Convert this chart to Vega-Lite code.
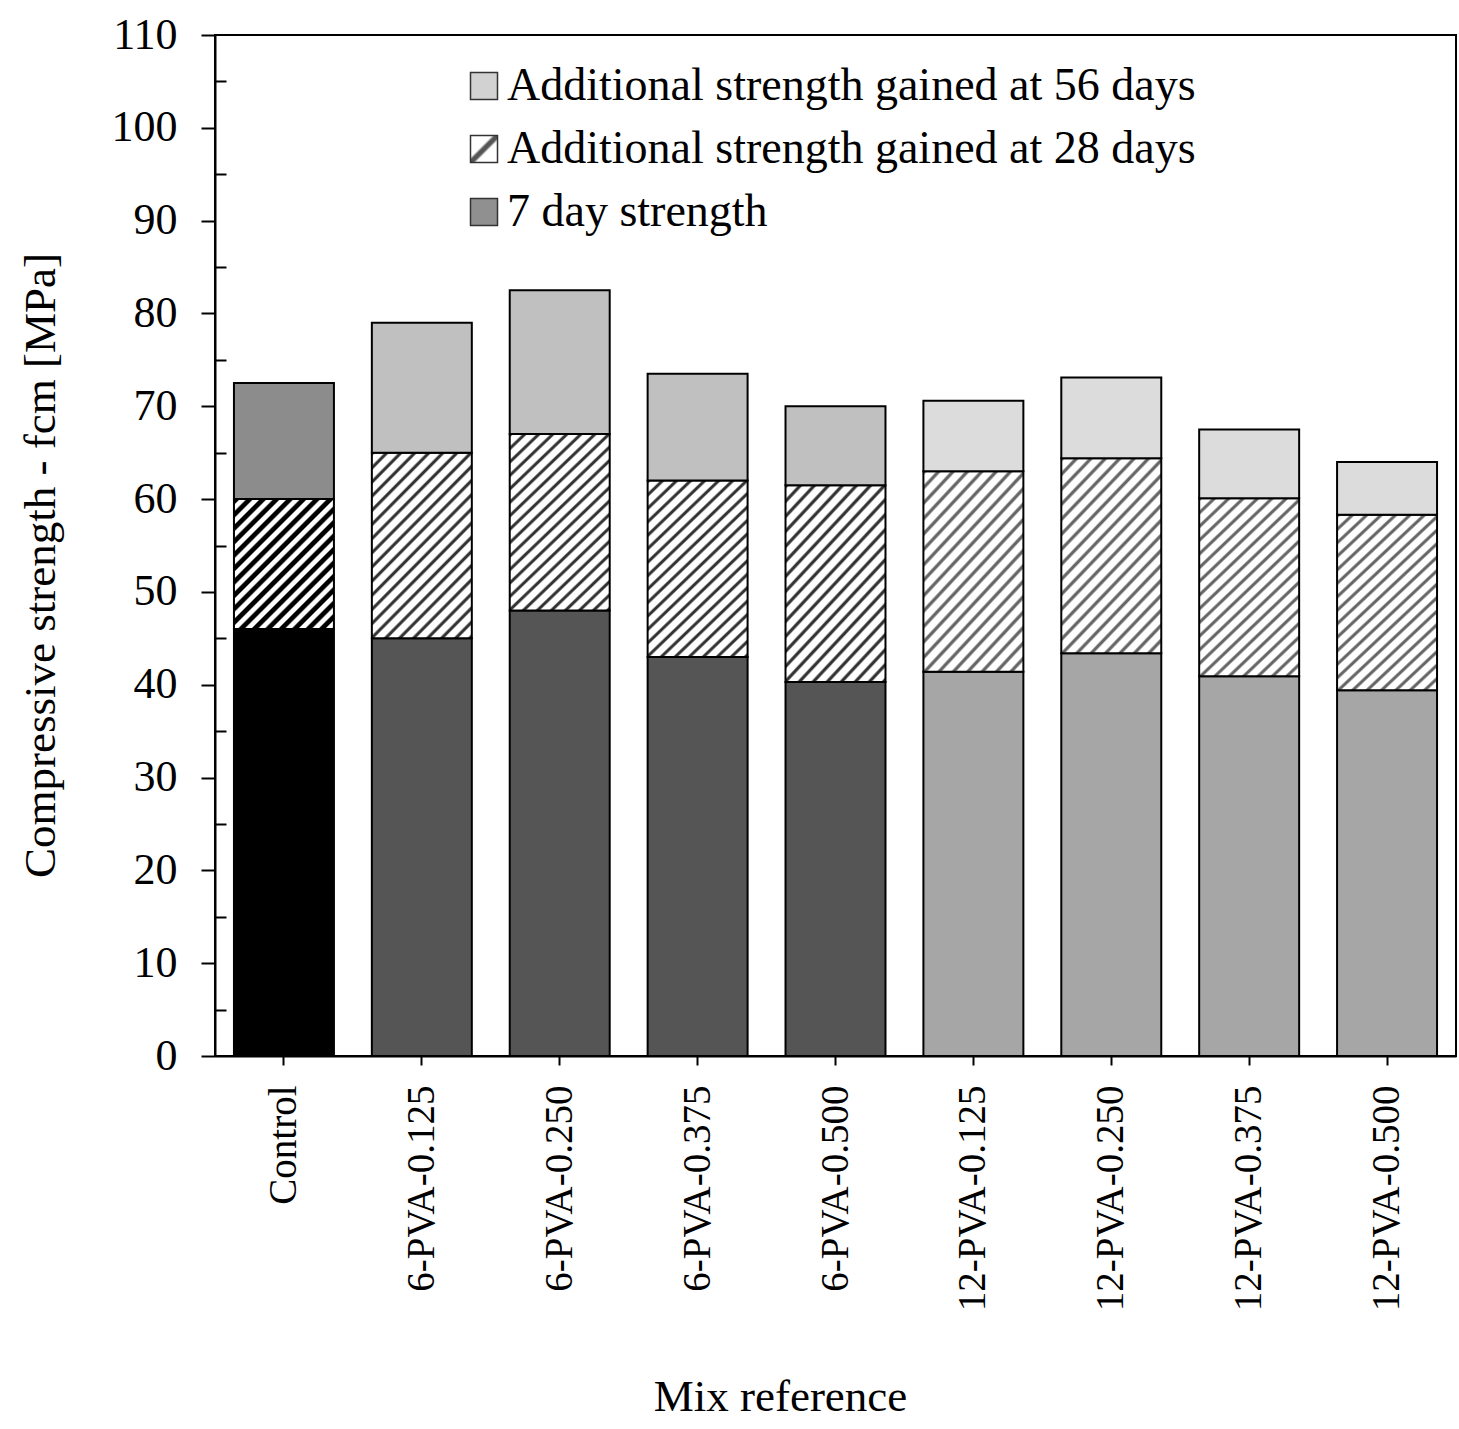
{
  "$schema": "https://vega.github.io/schema/vega-lite/v6.json",
  "autosize": {"type": "none"},
  "padding": {"left": 215, "top": 35, "right": 2, "bottom": 373},
  "width": 1241,
  "height": 1021,
  "background": "white",
  "config": {"view": {"stroke": "#000", "strokeWidth": 2}, "font": "Liberation Serif"},
  "data": {"values": [
    {"mix": "Control", "fiber": "Control", "age": 7, "value": 46},
    {"mix": "Control", "fiber": "Control", "age": 28, "value": 14},
    {"mix": "Control", "fiber": "Control", "age": 56, "value": 12.5},
    {"mix": "6-PVA-0.125", "fiber": "6", "age": 7, "value": 45},
    {"mix": "6-PVA-0.125", "fiber": "6", "age": 28, "value": 20},
    {"mix": "6-PVA-0.125", "fiber": "6", "age": 56, "value": 14},
    {"mix": "6-PVA-0.250", "fiber": "6", "age": 7, "value": 48},
    {"mix": "6-PVA-0.250", "fiber": "6", "age": 28, "value": 19},
    {"mix": "6-PVA-0.250", "fiber": "6", "age": 56, "value": 15.5},
    {"mix": "6-PVA-0.375", "fiber": "6", "age": 7, "value": 43},
    {"mix": "6-PVA-0.375", "fiber": "6", "age": 28, "value": 19},
    {"mix": "6-PVA-0.375", "fiber": "6", "age": 56, "value": 11.5},
    {"mix": "6-PVA-0.500", "fiber": "6", "age": 7, "value": 40.3},
    {"mix": "6-PVA-0.500", "fiber": "6", "age": 28, "value": 21.2},
    {"mix": "6-PVA-0.500", "fiber": "6", "age": 56, "value": 8.5},
    {"mix": "12-PVA-0.125", "fiber": "12", "age": 7, "value": 41.4},
    {"mix": "12-PVA-0.125", "fiber": "12", "age": 28, "value": 21.6},
    {"mix": "12-PVA-0.125", "fiber": "12", "age": 56, "value": 7.6},
    {"mix": "12-PVA-0.250", "fiber": "12", "age": 7, "value": 43.4},
    {"mix": "12-PVA-0.250", "fiber": "12", "age": 28, "value": 21.0},
    {"mix": "12-PVA-0.250", "fiber": "12", "age": 56, "value": 8.7},
    {"mix": "12-PVA-0.375", "fiber": "12", "age": 7, "value": 40.9},
    {"mix": "12-PVA-0.375", "fiber": "12", "age": 28, "value": 19.2},
    {"mix": "12-PVA-0.375", "fiber": "12", "age": 56, "value": 7.4},
    {"mix": "12-PVA-0.500", "fiber": "12", "age": 7, "value": 39.4},
    {"mix": "12-PVA-0.500", "fiber": "12", "age": 28, "value": 18.9},
    {"mix": "12-PVA-0.500", "fiber": "12", "age": 56, "value": 5.7}
  ]},
  "transform": [{"calculate": "datum.fiber + '_' + datum.age", "as": "key"}],
  "mark": {"type": "bar", "stroke": "#000", "strokeWidth": 2},
  "encoding": {
    "x": {
      "field": "mix", "type": "nominal",
      "sort": ["Control", "6-PVA-0.125", "6-PVA-0.250", "6-PVA-0.375", "6-PVA-0.500", "12-PVA-0.125", "12-PVA-0.250", "12-PVA-0.375", "12-PVA-0.500"],
      "scale": {"paddingInner": 0.275, "paddingOuter": 0.1375},
      "axis": {
        "title": "Mix reference", "labelAngle": -90, "labelFontSize": 39, "labelPadding": 20, "labelLimit": 500,
        "tickSize": 9, "tickColor": "#000", "tickWidth": 2, "domainColor": "#000", "domainWidth": 2,
        "titleFontSize": 45, "titleFontWeight": "normal", "titleY": 354, "titleX": 565, "titleAlign": "center", "titleBaseline": "alphabetic",
        "labelColor": "#000", "titleColor": "#000"
      }
    },
    "y": {
      "field": "value", "type": "quantitative", "stack": "zero",
      "scale": {"domain": [0, 110], "nice": false},
      "axis": {
        "title": "Compressive strength - fcm [MPa]",
        "values": [0, 5, 10, 15, 20, 25, 30, 35, 40, 45, 50, 55, 60, 65, 70, 75, 80, 85, 90, 95, 100, 105, 110],
        "labelExpr": "datum.value % 10 === 0 ? datum.label : ''",
        "tickSize": {"condition": {"test": "datum.value % 10 === 0", "value": 14}, "value": -11},
        "grid": false, "domainColor": "#000", "domainWidth": 2, "tickColor": "#000", "tickWidth": 2,
        "labelFontSize": 44, "labelColor": "#000", "labelPadding": 24,
        "titleFontSize": 45, "titleFontWeight": "normal", "titleColor": "#000", "titlePadding": 48, "titleY": 530
      }
    },
    "fill": {
      "field": "key", "type": "nominal",
      "scale": {
        "domain": ["Control_7", "Control_28", "Control_56", "6_7", "6_28", "6_56", "12_7", "12_28", "12_56", "L56", "L28", "L7"],
        "range": [
          "#000000",
          {"expr": "{gradient:'linear',x1:0,y1:0,x2:1,y2:1.3,stops:[{offset:0,color:'#000'},{offset:0.018,color:'#000'},{offset:0.025,color:'#fff'},{offset:0.043,color:'#fff'},{offset:0.05,color:'#000'},{offset:0.068,color:'#000'},{offset:0.075,color:'#fff'},{offset:0.093,color:'#fff'},{offset:0.1,color:'#000'},{offset:0.118,color:'#000'},{offset:0.125,color:'#fff'},{offset:0.143,color:'#fff'},{offset:0.15,color:'#000'},{offset:0.168,color:'#000'},{offset:0.175,color:'#fff'},{offset:0.193,color:'#fff'},{offset:0.2,color:'#000'},{offset:0.218,color:'#000'},{offset:0.225,color:'#fff'},{offset:0.243,color:'#fff'},{offset:0.25,color:'#000'},{offset:0.268,color:'#000'},{offset:0.275,color:'#fff'},{offset:0.293,color:'#fff'},{offset:0.3,color:'#000'},{offset:0.318,color:'#000'},{offset:0.325,color:'#fff'},{offset:0.343,color:'#fff'},{offset:0.35,color:'#000'},{offset:0.368,color:'#000'},{offset:0.375,color:'#fff'},{offset:0.393,color:'#fff'},{offset:0.4,color:'#000'},{offset:0.418,color:'#000'},{offset:0.425,color:'#fff'},{offset:0.443,color:'#fff'},{offset:0.45,color:'#000'},{offset:0.468,color:'#000'},{offset:0.475,color:'#fff'},{offset:0.493,color:'#fff'},{offset:0.5,color:'#000'},{offset:0.518,color:'#000'},{offset:0.525,color:'#fff'},{offset:0.543,color:'#fff'},{offset:0.55,color:'#000'},{offset:0.568,color:'#000'},{offset:0.575,color:'#fff'},{offset:0.593,color:'#fff'},{offset:0.6,color:'#000'},{offset:0.618,color:'#000'},{offset:0.625,color:'#fff'},{offset:0.643,color:'#fff'},{offset:0.65,color:'#000'},{offset:0.668,color:'#000'},{offset:0.675,color:'#fff'},{offset:0.693,color:'#fff'},{offset:0.7,color:'#000'},{offset:0.718,color:'#000'},{offset:0.725,color:'#fff'},{offset:0.743,color:'#fff'},{offset:0.75,color:'#000'},{offset:0.768,color:'#000'},{offset:0.775,color:'#fff'},{offset:0.793,color:'#fff'},{offset:0.8,color:'#000'},{offset:0.818,color:'#000'},{offset:0.825,color:'#fff'},{offset:0.843,color:'#fff'},{offset:0.85,color:'#000'},{offset:0.868,color:'#000'},{offset:0.875,color:'#fff'},{offset:0.893,color:'#fff'},{offset:0.9,color:'#000'},{offset:0.918,color:'#000'},{offset:0.925,color:'#fff'},{offset:1,color:'#fff'}]}"},
          "#8c8c8c",
          "#555555",
          {"expr": "{gradient:'linear',x1:0,y1:0,x2:1,y2:1.84,stops:[{offset:0,color:'#333'},{offset:0.005,color:'#333'},{offset:0.01,color:'#fff'},{offset:0.027,color:'#fff'},{offset:0.032,color:'#333'},{offset:0.037,color:'#333'},{offset:0.042,color:'#fff'},{offset:0.059,color:'#fff'},{offset:0.064,color:'#333'},{offset:0.069,color:'#333'},{offset:0.074,color:'#fff'},{offset:0.091,color:'#fff'},{offset:0.096,color:'#333'},{offset:0.101,color:'#333'},{offset:0.106,color:'#fff'},{offset:0.123,color:'#fff'},{offset:0.128,color:'#333'},{offset:0.133,color:'#333'},{offset:0.138,color:'#fff'},{offset:0.155,color:'#fff'},{offset:0.16,color:'#333'},{offset:0.165,color:'#333'},{offset:0.17,color:'#fff'},{offset:0.187,color:'#fff'},{offset:0.192,color:'#333'},{offset:0.197,color:'#333'},{offset:0.202,color:'#fff'},{offset:0.219,color:'#fff'},{offset:0.224,color:'#333'},{offset:0.229,color:'#333'},{offset:0.234,color:'#fff'},{offset:0.251,color:'#fff'},{offset:0.256,color:'#333'},{offset:0.261,color:'#333'},{offset:0.266,color:'#fff'},{offset:0.283,color:'#fff'},{offset:0.288,color:'#333'},{offset:0.293,color:'#333'},{offset:0.298,color:'#fff'},{offset:0.315,color:'#fff'},{offset:0.32,color:'#333'},{offset:0.325,color:'#333'},{offset:0.33,color:'#fff'},{offset:0.347,color:'#fff'},{offset:0.352,color:'#333'},{offset:0.357,color:'#333'},{offset:0.362,color:'#fff'},{offset:0.379,color:'#fff'},{offset:0.384,color:'#333'},{offset:0.389,color:'#333'},{offset:0.394,color:'#fff'},{offset:0.411,color:'#fff'},{offset:0.416,color:'#333'},{offset:0.421,color:'#333'},{offset:0.426,color:'#fff'},{offset:0.443,color:'#fff'},{offset:0.448,color:'#333'},{offset:0.453,color:'#333'},{offset:0.458,color:'#fff'},{offset:0.475,color:'#fff'},{offset:0.48,color:'#333'},{offset:0.485,color:'#333'},{offset:0.49,color:'#fff'},{offset:0.507,color:'#fff'},{offset:0.512,color:'#333'},{offset:0.517,color:'#333'},{offset:0.522,color:'#fff'},{offset:0.539,color:'#fff'},{offset:0.544,color:'#333'},{offset:0.549,color:'#333'},{offset:0.554,color:'#fff'},{offset:0.571,color:'#fff'},{offset:0.576,color:'#333'},{offset:0.581,color:'#333'},{offset:0.586,color:'#fff'},{offset:0.603,color:'#fff'},{offset:0.608,color:'#333'},{offset:0.613,color:'#333'},{offset:0.618,color:'#fff'},{offset:0.635,color:'#fff'},{offset:0.64,color:'#333'},{offset:0.645,color:'#333'},{offset:0.65,color:'#fff'},{offset:0.667,color:'#fff'},{offset:0.672,color:'#333'},{offset:0.677,color:'#333'},{offset:0.682,color:'#fff'},{offset:1,color:'#fff'}]}"},
          "#c0c0c0",
          "#a6a6a6",
          {"expr": "{gradient:'linear',x1:0,y1:0,x2:1,y2:1.87,stops:[{offset:0,color:'#666'},{offset:0.005,color:'#666'},{offset:0.01,color:'#fff'},{offset:0.027,color:'#fff'},{offset:0.032,color:'#666'},{offset:0.037,color:'#666'},{offset:0.042,color:'#fff'},{offset:0.059,color:'#fff'},{offset:0.064,color:'#666'},{offset:0.069,color:'#666'},{offset:0.074,color:'#fff'},{offset:0.091,color:'#fff'},{offset:0.096,color:'#666'},{offset:0.101,color:'#666'},{offset:0.106,color:'#fff'},{offset:0.123,color:'#fff'},{offset:0.128,color:'#666'},{offset:0.133,color:'#666'},{offset:0.138,color:'#fff'},{offset:0.155,color:'#fff'},{offset:0.16,color:'#666'},{offset:0.165,color:'#666'},{offset:0.17,color:'#fff'},{offset:0.187,color:'#fff'},{offset:0.192,color:'#666'},{offset:0.197,color:'#666'},{offset:0.202,color:'#fff'},{offset:0.219,color:'#fff'},{offset:0.224,color:'#666'},{offset:0.229,color:'#666'},{offset:0.234,color:'#fff'},{offset:0.251,color:'#fff'},{offset:0.256,color:'#666'},{offset:0.261,color:'#666'},{offset:0.266,color:'#fff'},{offset:0.283,color:'#fff'},{offset:0.288,color:'#666'},{offset:0.293,color:'#666'},{offset:0.298,color:'#fff'},{offset:0.315,color:'#fff'},{offset:0.32,color:'#666'},{offset:0.325,color:'#666'},{offset:0.33,color:'#fff'},{offset:0.347,color:'#fff'},{offset:0.352,color:'#666'},{offset:0.357,color:'#666'},{offset:0.362,color:'#fff'},{offset:0.379,color:'#fff'},{offset:0.384,color:'#666'},{offset:0.389,color:'#666'},{offset:0.394,color:'#fff'},{offset:0.411,color:'#fff'},{offset:0.416,color:'#666'},{offset:0.421,color:'#666'},{offset:0.426,color:'#fff'},{offset:0.443,color:'#fff'},{offset:0.448,color:'#666'},{offset:0.453,color:'#666'},{offset:0.458,color:'#fff'},{offset:0.475,color:'#fff'},{offset:0.48,color:'#666'},{offset:0.485,color:'#666'},{offset:0.49,color:'#fff'},{offset:0.507,color:'#fff'},{offset:0.512,color:'#666'},{offset:0.517,color:'#666'},{offset:0.522,color:'#fff'},{offset:0.539,color:'#fff'},{offset:0.544,color:'#666'},{offset:0.549,color:'#666'},{offset:0.554,color:'#fff'},{offset:0.571,color:'#fff'},{offset:0.576,color:'#666'},{offset:0.581,color:'#666'},{offset:0.586,color:'#fff'},{offset:0.603,color:'#fff'},{offset:0.608,color:'#666'},{offset:0.613,color:'#666'},{offset:0.618,color:'#fff'},{offset:0.635,color:'#fff'},{offset:0.64,color:'#666'},{offset:0.645,color:'#666'},{offset:0.65,color:'#fff'},{offset:0.667,color:'#fff'},{offset:0.672,color:'#666'},{offset:0.677,color:'#666'},{offset:0.682,color:'#fff'},{offset:1,color:'#fff'}]}"},
          "#dcdcdc",
          "#d2d2d2",
          {"expr": "{gradient:'linear',x1:0,y1:0,x2:1,y2:1,stops:[{offset:0,color:'#fff'},{offset:0.4,color:'#fff'},{offset:0.46,color:'#555'},{offset:0.54,color:'#555'},{offset:0.6,color:'#fff'},{offset:1,color:'#fff'}]}"},
          "#909090"
        ]
      },
      "legend": {
        "orient": "none", "legendX": 246, "legendY": 28, "title": null,
        "values": ["L56", "L28", "L7"],
        "labelExpr": "datum.value == 'L56' ? 'Additional strength gained at 56 days' : datum.value == 'L28' ? 'Additional strength gained at 28 days' : '7 day strength'",
        "symbolType": "square", "symbolSize": 729, "symbolStrokeColor": "#333", "symbolStrokeWidth": 1.5,
        "labelFontSize": 46, "labelColor": "#000", "labelOffset": 0, "rowPadding": 17, "padding": 0,
        "labelLimit": 1000
      }
    },
    "order": {"field": "age", "type": "quantitative", "sort": "ascending"}
  }
}
